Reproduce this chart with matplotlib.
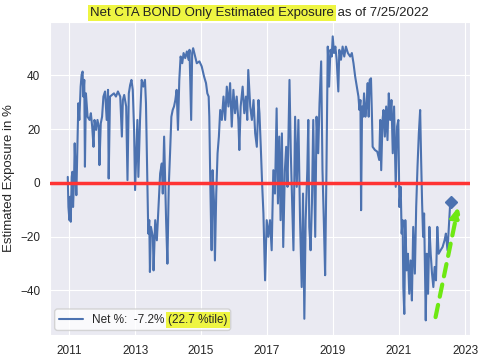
import matplotlib
matplotlib.use("Agg")
import matplotlib.pyplot as plt
from matplotlib.patches import FancyBboxPatch
from matplotlib.transforms import IdentityTransform
import seaborn as sns

sns.set_style("darkgrid")
plt.rcParams["font.family"] = ["Liberation Sans", "DejaVu Sans"]

# net exposure (%), x in decimal years
years = [
    2010.96, 2010.98, 2011.01, 2011.03, 2011.05, 2011.08, 2011.10, 2011.12, 2011.15, 2011.17,
    2011.20, 2011.22, 2011.25, 2011.28, 2011.31, 2011.35, 2011.38, 2011.41, 2011.43, 2011.46,
    2011.48, 2011.51, 2011.56, 2011.62, 2011.66, 2011.70, 2011.74, 2011.77, 2011.82, 2011.86,
    2011.90, 2011.92, 2011.96, 2012.00, 2012.04, 2012.09, 2012.14, 2012.18, 2012.20, 2012.24,
    2012.30, 2012.36, 2012.42, 2012.48, 2012.55, 2012.60, 2012.63, 2012.67, 2012.73, 2012.77,
    2012.81, 2012.85, 2012.89, 2012.93, 2012.97, 2013.00, 2013.03, 2013.07, 2013.10, 2013.15,
    2013.20, 2013.25, 2013.30, 2013.33, 2013.37, 2013.40, 2013.43, 2013.45, 2013.48, 2013.54,
    2013.56, 2013.61, 2013.66, 2013.71, 2013.76, 2013.81, 2013.84, 2013.88, 2013.91, 2013.94,
    2013.98, 2014.02, 2014.06, 2014.10, 2014.14, 2014.18, 2014.22, 2014.26, 2014.30, 2014.34,
    2014.38, 2014.43, 2014.47, 2014.52, 2014.57, 2014.62, 2014.65, 2014.70, 2014.73, 2014.76,
    2014.82, 2014.87, 2014.95, 2015.02, 2015.09, 2015.15, 2015.19, 2015.23, 2015.25, 2015.28,
    2015.30, 2015.32, 2015.35, 2015.39, 2015.42, 2015.46, 2015.50, 2015.54, 2015.58, 2015.63,
    2015.68, 2015.73, 2015.78, 2015.83, 2015.88, 2015.93, 2015.98, 2016.03, 2016.08, 2016.13,
    2016.16, 2016.20, 2016.26, 2016.31, 2016.36, 2016.40, 2016.43, 2016.49, 2016.54, 2016.59,
    2016.64, 2016.69, 2016.74, 2016.77, 2016.81, 2016.85, 2016.89, 2016.94, 2016.99, 2017.04,
    2017.09, 2017.14, 2017.19, 2017.24, 2017.29, 2017.33, 2017.37, 2017.41, 2017.45, 2017.49,
    2017.54, 2017.58, 2017.62, 2017.68, 2017.72, 2017.76, 2017.80, 2017.85, 2017.90, 2017.95,
    2018.00, 2018.05, 2018.09, 2018.13, 2018.17, 2018.22, 2018.25, 2018.28, 2018.32, 2018.36,
    2018.40, 2018.46, 2018.50, 2018.55, 2018.59, 2018.64, 2018.68, 2018.72, 2018.76, 2018.80,
    2018.84, 2018.88, 2018.92, 2018.96, 2018.99, 2019.03, 2019.07, 2019.11, 2019.16, 2019.19,
    2019.24, 2019.29, 2019.34, 2019.39, 2019.45, 2019.52, 2019.57, 2019.62, 2019.67, 2019.72,
    2019.77, 2019.80, 2019.83, 2019.85, 2019.88, 2019.91, 2019.94, 2019.98, 2020.02, 2020.05,
    2020.08, 2020.11, 2020.15, 2020.18, 2020.20, 2020.27, 2020.34, 2020.40, 2020.43, 2020.46,
    2020.50, 2020.53, 2020.57, 2020.61, 2020.65, 2020.69, 2020.73, 2020.77, 2020.81, 2020.85,
    2020.90, 2020.94, 2020.98, 2021.01, 2021.05, 2021.08, 2021.11, 2021.13, 2021.16, 2021.19,
    2021.23, 2021.27, 2021.31, 2021.35, 2021.39, 2021.43, 2021.48, 2021.52, 2021.56, 2021.60,
    2021.64, 2021.67, 2021.70, 2021.73, 2021.76, 2021.79, 2021.81, 2021.84, 2021.88, 2021.92,
    2021.96, 2022.00, 2022.04, 2022.08, 2022.12, 2022.16, 2022.20, 2022.26, 2022.32, 2022.38,
    2022.42, 2022.47, 2022.51, 2022.55, 2022.565,
]
net = [
    2.2, -9.0, -13.9, -5.2, -14.5, 2.2, 4.1, -9.0, 1.0, 14.7,
    2.2, -4.6, 13.4, 29.6, 23.4, 35.8, 40.2, 41.4, 32.1, 38.3,
    6.0, 33.3, 24.6, 23.4, 25.9, 20.9, 13.4, 23.4, 19.7, 23.4,
    20.9, 6.6, 22.1, 24.6, 32.1, 34.0, 23.4, 34.6, 1.6, 32.1,
    32.7, 33.3, 32.1, 34.0, 32.1, 17.2, 30.8, 32.7, 28.4, 1.0,
    33.3, 36.4, 38.3, 34.6, 19.7, -2.7, 8.5, 23.4, 2.2, 23.4,
    38.3, 35.8, 38.3, 29.6, 1.0, -18.9, -13.9, -33.2, -16.4, -20.1,
    -32.6, -13.9, -21.4, -9.0, 3.5, 7.2, -4.0, 17.2, 2.2, -13.9,
    -30.1, -1.5, 11.0, 24.6, 27.1, 28.4, 30.8, 34.6, 19.7, 38.3,
    47.0, 44.5, 48.3, 46.4, 48.9, 45.8, 49.5, 23.4, 48.3, 50.1,
    47.0, 44.5, 45.2, 43.3, 39.6, 37.1, 33.3, 32.1, 24.6, -0.2,
    -13.9, -25.1, 4.7, -6.5, -28.9, -4.0, 11.0, 17.2, 27.1, 23.4,
    32.1, 23.4, 35.8, 28.4, 37.1, 20.9, 34.6, 25.9, 32.1, 23.4,
    12.2, 28.4, 35.8, 25.9, 32.1, 23.4, 42.0, 28.4, 23.4, 30.8,
    18.4, 13.4, 30.8, 25.9, 13.4, -0.2, -11.4, -36.3, -13.9, -20.1,
    -13.9, -25.1, 4.7, -4.0, 27.7, -7.7, 17.2, -13.9, 18.4, -23.9,
    4.7, 13.4, -1.5, 38.3, 11.0, -7.7, -25.1, 24.6, -1.5, 23.4,
    -13.9, -38.8, -4.0, -50.6, -13.9, 4.7, 23.4, -16.4, -25.1, -7.7,
    23.4, -20.1, 24.6, 11.0, 29.6, 45.2, 4.7, -13.9, -34.4, 4.7,
    50.7, 35.8, 49.5, 47.0, 54.5, 48.3, 50.7, 45.8, 34.0, 49.5,
    45.8, 50.7, 47.0, 50.7, 48.3, 47.0, 48.3, 44.5, 39.6, 35.8,
    32.1, 27.1, 30.8, -10.2, 28.4, 24.6, 33.3, 24.6, 29.6, 37.1,
    24.6, 38.3, 38.9, 24.6, 13.4, 12.2, 11.6, 8.5, 23.4, 4.7,
    23.4, 27.1, 17.2, 28.4, 15.9, 33.3, 23.4, 30.8, 11.0, 28.4,
    -1.5, 20.9, 23.4, -9.0, -1.5, -18.9, -13.9, -38.8, -48.8, -13.9,
    -32.6, -26.4, -41.3, -28.9, -43.8, -16.4, -33.8, -9.0, 6.0, 18.4,
    27.1, 8.5, -7.7, -20.1, -11.4, -36.3, -51.2, -26.4, -41.3, -16.4,
    -26.4, -33.8, -38.8, -31.3, -36.3, -16.4, -26.4, -25.1, -23.9, -21.4,
    -18.9, -25.1, -16.4, -7.7, -7.2,
]
xticks = [2011, 2013, 2015, 2017, 2019, 2021, 2023]
yticks = [-40, -20, 0, 20, 40]
last_value = -7.2
last_pct = 22.7

blue = "#4C72B0"
yellow = "#eef542"

fig = plt.figure(figsize=(4.85, 3.6), dpi=100)
ax = fig.add_axes([0.103, 0.069, 0.866, 0.871])

ax.plot(years, net, color=blue, lw=1.5, label=f"Net %:  {last_value}%")
ax.plot(years[-1], net[-1], marker="D", color=blue, ms=6)
ax.axhline(0, color="#ff3333", lw=2.5, zorder=3)

# green dashed arrow
ax.annotate("", xy=(2022.81, -8.0), xytext=(2022.09, -51),
            arrowprops=dict(arrowstyle="-|>", color="#6ee812", lw=3,
                            linestyle=(0, (3, 2)), mutation_scale=15))

ax.set_xlim(2010.42, 2023.15)
ax.set_ylim(-56.7, 60)
ax.set_xticks(xticks)
ax.set_xticklabels([str(y) for y in xticks])
ax.set_yticks(yticks)
ax.tick_params(labelsize=8.5, colors="#262626")
ax.set_ylabel("Estimated Exposure in %", fontsize=9.5, color="#262626")

leg = ax.legend(loc="lower left", fontsize=8.5, borderaxespad=0.4, frameon=False)

# title with highlighted first part
t1 = fig.text(0.185, 0.963, "Net CTA BOND Only Estimated Exposure", fontsize=9.5,
              va="center", ha="left", color="#222222",
              bbox=dict(facecolor=yellow, edgecolor="none", pad=1.5))
fig.canvas.draw()
r = fig.canvas.get_renderer()
W, H = fig.bbox.width, fig.bbox.height
bb = t1.get_window_extent(r)
fig.text(bb.x1 / W, 0.963, " as of 7/25/2022", fontsize=9.5, va="center", ha="left", color="#222222")

# highlighted percentile after the legend text, and a frame around both
lt = leg.get_texts()[0].get_window_extent(r)
lb = leg.get_window_extent(r)
tmp1 = fig.text(0, 0, "a a", fontsize=8.5)
tmp2 = fig.text(0, 0, "aa", fontsize=8.5)
space = tmp1.get_window_extent(r).width - tmp2.get_window_extent(r).width
tmp1.remove()
tmp2.remove()
hl = fig.text((lt.x1 + space) / W, lt.y0 / H, f"({last_pct} %tile)", fontsize=8.5,
              ha="left", va="bottom", color="#262626",
              bbox=dict(facecolor=yellow, edgecolor="none", pad=1.5))
fig.canvas.draw()
hb = hl.get_bbox_patch().get_window_extent(r)
frame = FancyBboxPatch((lb.x0, lb.y0), hb.x1 + 1 - lb.x0, lb.height,
                       boxstyle="round,pad=0,rounding_size=3",
                       facecolor="white", alpha=0.8, edgecolor="0.8", lw=1,
                       transform=IdentityTransform(), zorder=4.9)
ax.add_patch(frame)

fig.savefig("out.png", dpi=100)
